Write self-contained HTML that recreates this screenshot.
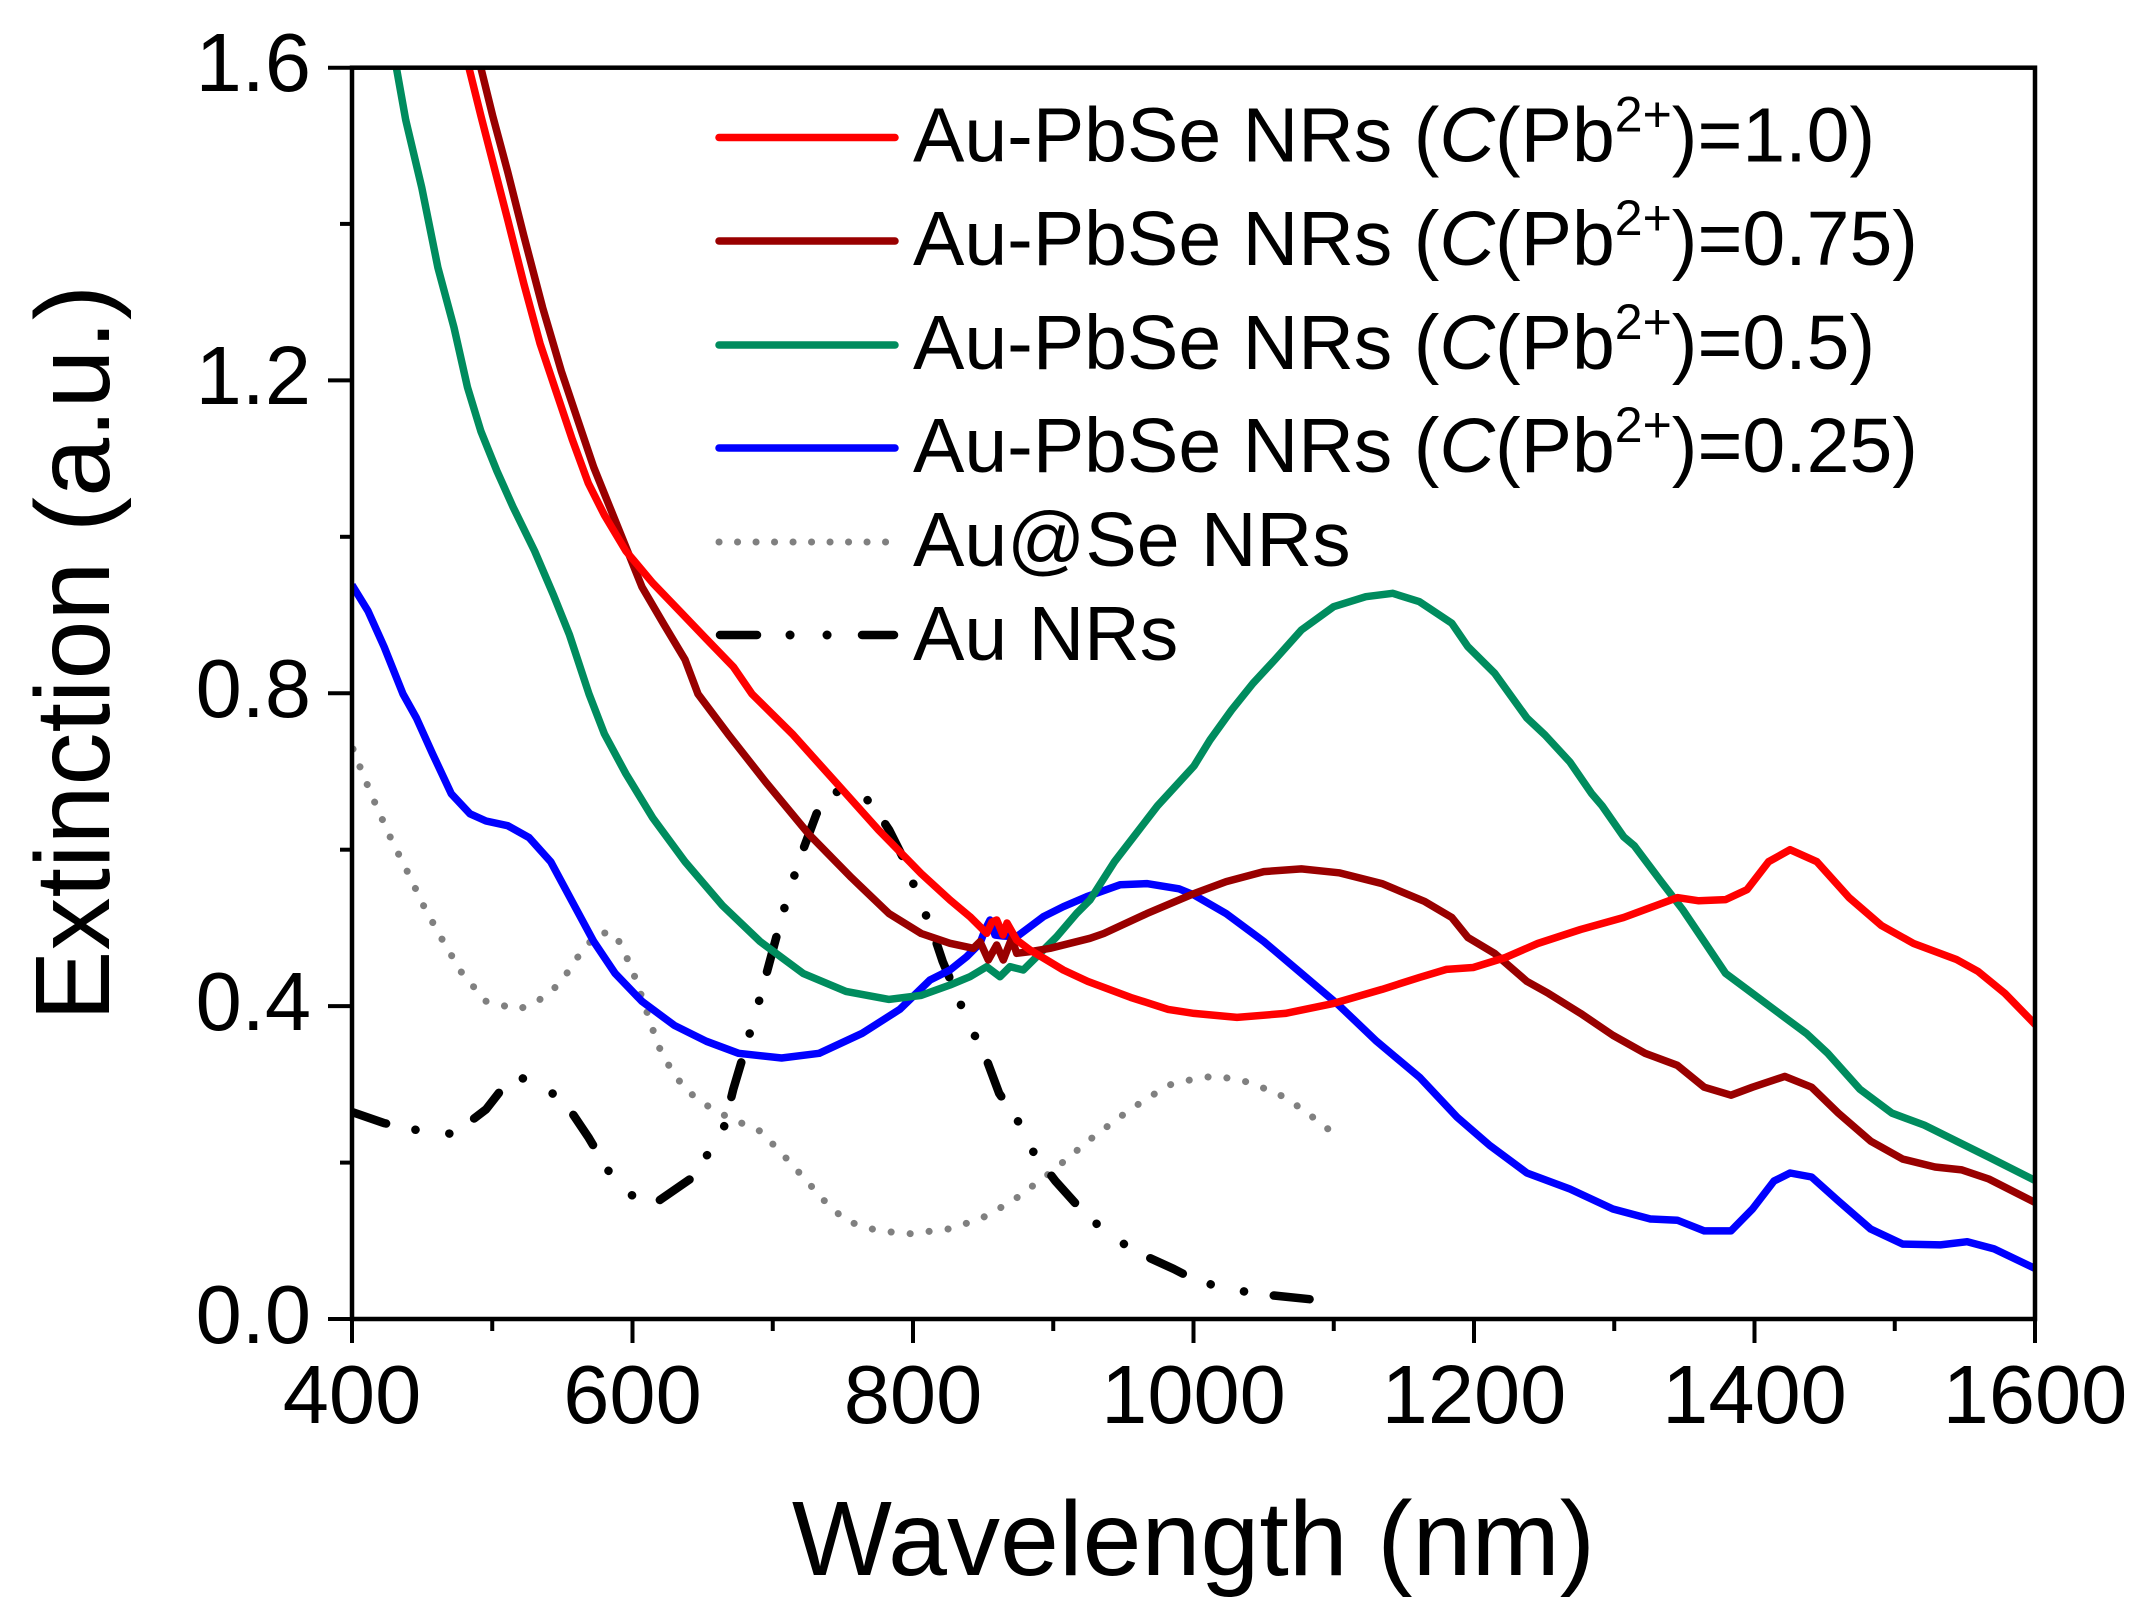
<!DOCTYPE html>
<html><head><meta charset="utf-8"><style>
html,body{margin:0;padding:0;background:#fff;}
svg{display:block;}
text{font-family:"Liberation Sans",Arial,sans-serif;fill:#000;}
</style></head><body>
<svg width="2144" height="1618" viewBox="0 0 2144 1618" xmlns="http://www.w3.org/2000/svg">
<defs><clipPath id="pa"><rect x="352" y="67.7" width="1683" height="1251.3"/></clipPath></defs>
<rect width="2144" height="1618" fill="#fff"/>
<g clip-path="url(#pa)" fill="none" stroke-linejoin="round">
<!-- Au@Se dotted -->
<polyline stroke="#808080" stroke-width="7" stroke-linecap="round" stroke-dasharray="0.1 19" points="353,749 362.7,773.8 376.2,805.8 392.3,841.7 408.4,873.6 424.5,907.6 443.3,941.5 462.1,973.4 486.2,1001.4 518.5,1009.4 537.3,1001.4 553.4,989.4 566.8,973.4 582.9,949.5 599,932.7 615.1,933.5 628.6,961.5 636.6,981.4 647.4,1013.4 658.1,1045.3 668.8,1065.3 684.9,1089.2 706.4,1105.2 727.9,1117.2 760.1,1131.1 781.6,1153.1 803.1,1177 824.6,1201 846,1220.9 878.3,1230.9 910.5,1233.7 948.1,1229 980.3,1219 1012.5,1201 1050,1173 1093,1137.1 1130.6,1109.2 1168.2,1085.2 1194,1079 1215,1076 1242.3,1080.4 1261.1,1087.2 1277.2,1093.2 1293.3,1103.2 1306.8,1112.4 1320.2,1123.1 1334.7,1134"/>
<!-- Au NRs dash-dot-dot -->
<polyline stroke="#000" stroke-width="8.5" stroke-linecap="round" stroke-dasharray="36 30 0.1 34 0.1 30" points="352,1112 384.2,1123.1 421.8,1131.1 454,1134 486.2,1109.2 505,1085 518.5,1077.2 540,1083.2 566.8,1105.2 588.3,1137.1 609.8,1173 631.2,1195 655.4,1203 690.3,1179 722.5,1133.1 733.3,1089.2 744,1053.3 760.1,997.4 781.6,917.5 792.3,881.6 803.1,849.7 816.5,813.8 828,797 842,789 856,793 870.2,801.8 889,829.7 905.1,861.7 918.5,897.6 932,929.5 942.7,961.5 956.1,993.4 969.6,1025.3 985.7,1057.3 999.1,1093.2 1017.9,1121.1 1034,1153.1 1055.4,1181 1082.3,1211 1109.1,1235 1138.7,1252.9 1173.6,1268.9 1196.7,1280.8 1231.6,1289.6 1266.5,1294.8 1317.5,1300 1338,1300"/>
<!-- Blue 0.25 -->
<polyline stroke="#0000FF" stroke-width="7.5" points="352,585 368,611 384.2,647 403,694 416.4,718 432.6,753.9 451.3,793.8 470,813.8 486,821 507.7,825.7 529.2,837.7 550.7,861.7 572.2,901.6 593.7,941.5 615.1,973.4 642,1001.4 674.2,1025.3 706.4,1041.3 738.6,1053.3 781.6,1058 819.2,1053.3 862.2,1033.3 899.7,1009.4 930,980 950,970 966.7,956.7 980,943.3 985,930 990,920 995,935 1003,936 1016.7,936.7 1030,926.7 1043.3,916.7 1063.3,906.7 1086.7,896.7 1120,884.8 1146.8,883.6 1179,888.8 1194,895 1226.2,913.6 1263.8,941.5 1301.4,973.4 1339,1005.4 1376.6,1041.3 1419.5,1077.2 1457.1,1117.2 1489.3,1145.1 1526.9,1173 1569.9,1189 1612.9,1209 1650.4,1219 1677.3,1220.2 1704.2,1230.9 1731,1230.9 1752.5,1209 1774,1181 1790.1,1173 1811.6,1177 1838.4,1201 1870.6,1229 1902.8,1244.1 1940.4,1244.9 1967.3,1241.7 1994.1,1248.9 2036,1268.9"/>
<!-- Green 0.5 -->
<polyline stroke="#008C5E" stroke-width="7.5" points="395,60 405.7,119.9 421.8,187.8 437.9,267.6 454,327.5 467.5,387.4 480.9,431.3 497,471.2 513.1,507.1 534.6,551 553.4,594.9 569.5,634.9 589,694 604.4,733.9 625.9,773.8 652.7,817.8 685,861.7 722.5,905.6 760.1,941.5 803.1,973.4 846,991.4 889,999.4 921.2,995.4 950,985 970,976.7 986.7,966.7 1000,976.7 1010,966.7 1023.3,970 1036.7,956.7 1056.7,936.7 1076.7,913.3 1090,900 1114.5,861.7 1157.5,805.8 1194,766 1210,740 1231.6,710 1253,683.3 1274.6,660 1301.4,630 1333.6,606.7 1365.8,596.7 1392.7,593.3 1419.5,601.7 1451.8,623.3 1467.9,646.7 1494.7,673.3 1526.9,718 1545,735 1569.9,762 1591.4,793.3 1602.1,805.8 1623.6,836.7 1634.3,845.7 1661.2,881.6 1682.7,909.6 1704.2,941.5 1725.6,973.4 1747.1,989.4 1779.3,1013.4 1806.2,1033.3 1827.7,1053.3 1859.9,1089.2 1892.1,1113.2 1924.3,1125.1 1956.5,1141.1 1988.8,1157.1 2036,1181"/>
<!-- Dark red 0.75 -->
<polyline stroke="#990000" stroke-width="7.5" points="480,60 480.9,68 492.7,115.9 507.7,171.8 523.8,235.7 542.6,307.5 561.4,371.4 577.5,419.3 593.7,467.2 609.8,507.1 625.9,547 642,587 663.5,623.7 685,659.6 698,694 727.9,733.9 765.5,781.8 808.4,833.7 851.4,877.6 889,913.6 921.2,933.5 950,943.3 973.3,948.3 980,941.7 988.3,960 996.7,945 1003.3,960 1011.7,938.3 1016.7,953.3 1030,951.7 1050,948.3 1070,943.3 1090,938.3 1103.8,933.5 1146.8,913.6 1194,893.6 1226.2,881.6 1263.8,871.6 1301.4,868.9 1339,872.8 1382,883.6 1424.9,901.6 1451.8,917.5 1467.9,937.5 1494.7,953.5 1526.9,981.4 1548.4,993.4 1580.6,1013.4 1612.9,1035.3 1645.1,1053.3 1677.3,1065.3 1704.2,1087.2 1731,1095.2 1752.5,1087.2 1784.7,1076.4 1811.6,1087.2 1838.4,1113.2 1870.6,1141.1 1902.8,1159.1 1935,1167 1961.9,1169.9 1988.8,1179 2036,1203"/>
<!-- Red 1.0 -->
<polyline stroke="#FF0000" stroke-width="7.5" points="468,60 469,68 480.9,115.9 494.3,167.8 507.7,219.7 523.8,283.6 540,343.4 556.1,391.4 572.2,439.3 588.3,483.2 604.4,515.1 625.9,551 652.7,583 679.6,611 706.4,639 733.3,666.8 752,694 792.3,733.9 835.3,781.8 878.3,829.7 921.2,873.6 950,900 970,916.7 986.7,933.3 992,922 996.7,920 1003,935 1007,923 1016.7,940 1030,950 1046.7,960 1063.3,970 1087.7,981.4 1130.6,997.4 1168.2,1009.4 1194,1013.4 1237,1017.4 1285.3,1013.4 1333.6,1003.4 1382,989.4 1419.5,977.4 1446.4,969.4 1473.2,967.5 1505.5,957.5 1537.7,943.5 1580.6,929.5 1623.6,917.5 1655.8,905.6 1677.3,897.6 1698.8,900.8 1725.6,899.6 1747.1,889.6 1768.6,861.7 1790.1,849.7 1816.9,861.7 1849.1,897.6 1881.4,925.5 1913.6,943.5 1956.5,959.5 1978,971.4 2004.9,993.4 2036,1025.3"/>
</g>
<!-- Frame -->
<rect x="352" y="67.7" width="1683" height="1251.3" fill="none" stroke="#000" stroke-width="4.5"/>
<!-- X ticks -->
<g stroke="#000" stroke-width="4">
<line x1="352" y1="1319" x2="352" y2="1343"/>
<line x1="632.5" y1="1319" x2="632.5" y2="1343"/>
<line x1="913" y1="1319" x2="913" y2="1343"/>
<line x1="1193.5" y1="1319" x2="1193.5" y2="1343"/>
<line x1="1474" y1="1319" x2="1474" y2="1343"/>
<line x1="1754.5" y1="1319" x2="1754.5" y2="1343"/>
<line x1="2035" y1="1319" x2="2035" y2="1343"/>
<line x1="492.25" y1="1319" x2="492.25" y2="1331"/>
<line x1="772.75" y1="1319" x2="772.75" y2="1331"/>
<line x1="1053.25" y1="1319" x2="1053.25" y2="1331"/>
<line x1="1333.75" y1="1319" x2="1333.75" y2="1331"/>
<line x1="1614.25" y1="1319" x2="1614.25" y2="1331"/>
<line x1="1894.75" y1="1319" x2="1894.75" y2="1331"/>
<!-- Y ticks -->
<line x1="328" y1="1319" x2="352" y2="1319"/>
<line x1="328" y1="1006.1" x2="352" y2="1006.1"/>
<line x1="328" y1="693.2" x2="352" y2="693.2"/>
<line x1="328" y1="380.4" x2="352" y2="380.4"/>
<line x1="328" y1="67.7" x2="352" y2="67.7"/>
<line x1="340" y1="1162.6" x2="352" y2="1162.6"/>
<line x1="340" y1="849.7" x2="352" y2="849.7"/>
<line x1="340" y1="536.8" x2="352" y2="536.8"/>
<line x1="340" y1="223.9" x2="352" y2="223.9"/>
</g>
<!-- Tick labels -->
<g font-size="83" text-anchor="middle">
<text x="352" y="1423">400</text>
<text x="632.5" y="1423">600</text>
<text x="913" y="1423">800</text>
<text x="1193.5" y="1423">1000</text>
<text x="1474" y="1423">1200</text>
<text x="1754.5" y="1423">1400</text>
<text x="2035" y="1423">1600</text>
</g>
<g font-size="83" text-anchor="end">
<text x="311" y="1343">0.0</text>
<text x="311" y="1030">0.4</text>
<text x="311" y="717">0.8</text>
<text x="311" y="404">1.2</text>
<text x="311" y="91">1.6</text>
</g>
<!-- Axis titles -->
<text x="1193.5" y="1575" font-size="106" text-anchor="middle">Wavelength (nm)</text>
<text transform="translate(109,653) rotate(-90)" font-size="106" text-anchor="middle">Extinction (a.u.)</text>
<!-- Legend -->
<g stroke-width="7.5" stroke-linecap="round">
<line x1="719" y1="137.5" x2="895" y2="137.5" stroke="#FF0000"/>
<line x1="719" y1="241" x2="895" y2="241" stroke="#990000"/>
<line x1="719" y1="345" x2="895" y2="345" stroke="#008C5E"/>
<line x1="719" y1="448" x2="895" y2="448" stroke="#0000FF"/>
<line x1="719" y1="542" x2="895" y2="542" stroke="#808080" stroke-width="7" stroke-dasharray="0.1 18.4"/>
<line x1="720" y1="635" x2="757" y2="635" stroke="#000" stroke-width="8.5"/>
<line x1="790" y1="635" x2="790.1" y2="635" stroke="#000" stroke-width="9"/>
<line x1="827" y1="635" x2="827.1" y2="635" stroke="#000" stroke-width="9"/>
<line x1="862" y1="635" x2="894" y2="635" stroke="#000" stroke-width="8.5"/>
</g>
<g font-size="77">
<text x="913" y="161.5">Au-PbSe NRs (<tspan font-style="italic">C</tspan>(Pb<tspan font-size="50" dy="-30">2+</tspan><tspan dy="30">)=1.0)</tspan></text>
<text x="913" y="265">Au-PbSe NRs (<tspan font-style="italic">C</tspan>(Pb<tspan font-size="50" dy="-30">2+</tspan><tspan dy="30">)=0.75)</tspan></text>
<text x="913" y="369">Au-PbSe NRs (<tspan font-style="italic">C</tspan>(Pb<tspan font-size="50" dy="-30">2+</tspan><tspan dy="30">)=0.5)</tspan></text>
<text x="913" y="472">Au-PbSe NRs (<tspan font-style="italic">C</tspan>(Pb<tspan font-size="50" dy="-30">2+</tspan><tspan dy="30">)=0.25)</tspan></text>
<text x="913" y="566">Au@Se NRs</text>
<text x="913" y="660">Au NRs</text>
</g>
</svg>
</body></html>
